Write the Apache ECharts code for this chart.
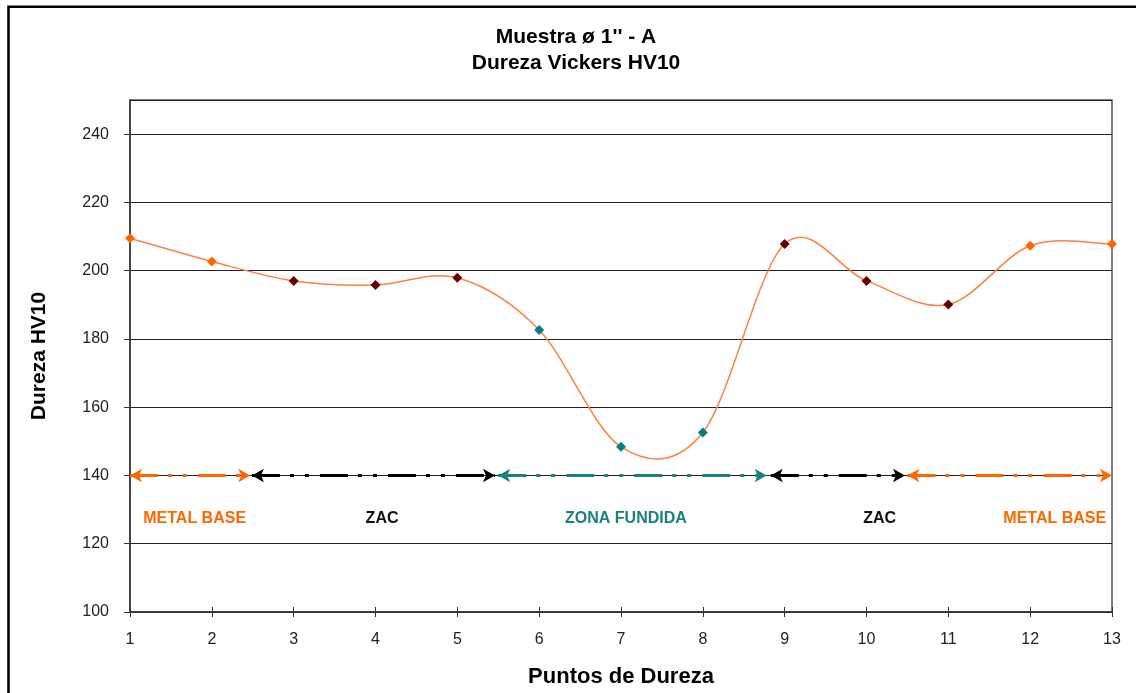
<!DOCTYPE html>
<html><head><meta charset="utf-8">
<script src="https://cdn.jsdelivr.net/npm/echarts@6/dist/echarts.min.js"></script>
<style>html,body{margin:0;padding:0;background:#fff}#c{width:1136px;height:693px}</style>
</head><body><div id="c"></div>
<script>
const titleLines = ["Muestra ø 1'' - A", "Dureza Vickers HV10"];
const xName = "Puntos de Dureza";
const yName = "Dureza HV10";
const points = [1,2,3,4,5,6,7,8,9,10,11,12,13];
const hardness = [209.5,202.7,197.0,195.8,197.9,182.6,148.4,152.6,207.8,197.0,190.1,207.3,207.8];
const pointZone = ['base','base','zac','zac','zac','fund','fund','fund','zac','zac','zac','base','base'];
const zoneNames = ['METAL BASE','ZAC','ZONA FUNDIDA','ZAC','METAL BASE'];
const zoneKinds = ['base','zac','fund','zac','base'];
const zoneStart = [1, 2.49, 5.5, 8.83, 10.5];
const zoneEnd = [2.47, 5.46, 8.78, 10.47, 13];
const zoneLevel = 140;
const zoneLabelX = [1.79, 4.08, 7.06, 10.16, 12.3];
const zoneLabelY = 127.4;
const yTicks = [100,120,140,160,180,200,220,240];
const yMax = 250;

const FONT = "'Liberation Sans', Arial, sans-serif";
const markerColor = {base:'#FF6600', zac:'#660000', fund:'#008080'};
const zoneColor = {base:'#FF6600', zac:'#000000', fund:'#1A8080'};
const labelColor = {base:'#FF6600', zac:'#111111', fund:'#1A8080'};

const chart = echarts.init(document.getElementById('c'), null, {renderer:'canvas'});

const series = [];
zoneKinds.forEach((k, i) => {
  series.push({
    type:'line', data:[], silent:true, z:3,
    markLine:{
      silent:true, animation:false,
      symbol:['arrow','arrow'], symbolSize:[10,12],
      label:{show:false},
      lineStyle:{color:zoneColor[k], width:3, type:[28,10,4,11,4,11], cap:'butt'},
      emphasis:{disabled:true},
      data:[[{coord:[zoneStart[i], zoneLevel]},{coord:[zoneEnd[i], zoneLevel]}]]
    }
  });
});
series.push({
  type:'scatter', symbol:'circle', symbolSize:1, silent:true, z:4,
  itemStyle:{color:'rgba(0,0,0,0)', opacity:1},
  data: zoneNames.map((n,i)=>({value:[zoneLabelX[i], zoneLabelY], name:n,
    label:{color: labelColor[zoneKinds[i]]}})),
  label:{show:true, position:'inside', formatter:p=>p.name, fontFamily:FONT, fontWeight:'bold', fontSize:16, opacity:1}
});
// smooth curve (Catmull-Rom style bezier segments) through the data via axis coords
series.push({
  type:'custom', z:5, silent:true,
  data: points.map((x,i)=>[x, hardness[i]]),
  renderItem: function(params, api){
    const i = params.dataIndex;
    const n = points.length;
    if (i >= n-1) return null;
    const P = k => api.coord([points[Math.max(0,Math.min(n-1,k))], hardness[Math.max(0,Math.min(n-1,k))]]);
    const p0 = P(i-1), p1 = P(i), p2 = P(i+1), p3 = P(i+2);
    return {
      type:'bezierCurve',
      shape:{
        x1:p1[0], y1:p1[1], x2:p2[0], y2:p2[1],
        cpx1:p1[0]+(p2[0]-p0[0])/6, cpy1:p1[1]+(p2[1]-p0[1])/6,
        cpx2:p2[0]-(p3[0]-p1[0])/6, cpy2:p2[1]-(p3[1]-p1[1])/6
      },
      style:{stroke:'#FF8040', lineWidth:1.5, fill:null}
    };
  }
});
series.push({
  type:'scatter', z:6, silent:true,
  data: points.map((x,i)=>({value:[x, hardness[i]], itemStyle:{color:markerColor[pointZone[i]], opacity:1}})),
  itemStyle:{opacity:1},
  symbol:'diamond', symbolSize:10
});

chart.setOption({
  animation:false,
  backgroundColor:'#fff',
  title:{
    text:titleLines.join('\n'), left:576, top:24, textAlign:'center', padding:0,
    textStyle:{fontFamily:FONT, fontSize:21, fontWeight:'bold', lineHeight:26, color:'#000'}
  },
  grid:{left:130, right:24, top:100, bottom:76, show:true, borderColor:'#555', borderWidth:1.5, backgroundColor:'#fff'},
  xAxis:[{
    type:'value', min:points[0], max:points[points.length-1], interval:1, position:'bottom',
    name:xName, nameLocation:'middle', nameGap:54,
    nameTextStyle:{fontFamily:FONT, fontSize:22, fontWeight:'bold', color:'#000'},
    axisLine:{show:true, lineStyle:{color:'#333', width:1.5}},
    axisTick:{show:true, length:5, lineStyle:{color:'#333'}},
    axisLabel:{fontFamily:FONT, fontSize:16, color:'#222', margin:20},
    splitLine:{show:false}
  },{
    type:'value', min:points[0], max:points[points.length-1], interval:1, position:'bottom',
    axisLine:{show:false}, axisTick:{show:true, inside:true, length:5, lineStyle:{color:'#333'}},
    axisLabel:{show:false}, splitLine:{show:false}
  }],
  yAxis:{
    type:'value', min:yTicks[0], max:yMax, interval:yTicks[1]-yTicks[0],
    name:yName, nameLocation:'middle', nameGap:80, nameRotate:90,
    nameTextStyle:{fontFamily:FONT, fontSize:21, fontWeight:'bold', color:'#000'},
    axisLine:{show:true, lineStyle:{color:'#333', width:1.5}},
    axisTick:{show:true, length:6, lineStyle:{color:'#333'}},
    axisLabel:{fontFamily:FONT, fontSize:16, color:'#222', margin:21, showMaxLabel:false},
    splitLine:{show:true, lineStyle:{color:'#222', width:1}}
  },
  graphic:[{type:'rect', z:100, silent:true, shape:{x:8.5, y:6.8, width:1140, height:700},
    style:{fill:'none', stroke:'#000', lineWidth:2.6}}],
  series: series
});
</script>
</body></html>
